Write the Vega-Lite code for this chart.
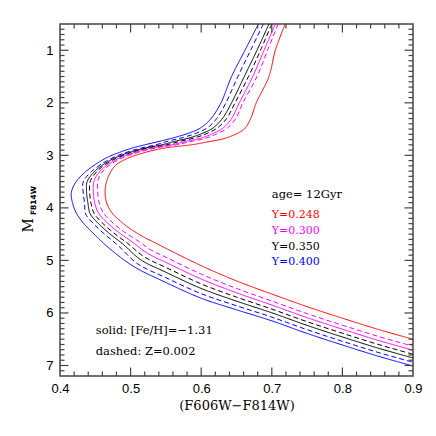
{
"$schema": "https://vega.github.io/schema/vega-lite/v6.json",
"width": 353, "height": 352,
"autosize": "none",
"padding": {"left": 60, "top": 24, "right": 23, "bottom": 60},
"background": "white",
"config": {
"view": {"stroke": "#444", "strokeWidth": 1.5},
"axis": {"ticks": false, "domain": false, "grid": false, "labelFlush": false, "labelOverlap": false, "labelFont": "Liberation Sans", "labelFontSize": 13, "labelColor": "black", "titleFont": "DejaVu Serif", "titleFontSize": 13, "titleFontWeight": "normal", "titleColor": "black", "titlePadding": 4},
"axisX": {"labelPadding": 6},
"axisY": {"labelPadding": 7}
},
"datasets": {
"curves": [
{"Y":"0.400","kind":"solid","i":1,"x":0.681,"y":0.5},{"Y":"0.400","kind":"solid","i":2,"x":0.662,"y":1.0},{"Y":"0.400","kind":"solid","i":3,"x":0.643,"y":1.5},{"Y":"0.400","kind":"solid","i":4,"x":0.628,"y":2.0},{"Y":"0.400","kind":"solid","i":5,"x":0.614,"y":2.3},{"Y":"0.400","kind":"solid","i":6,"x":0.6,"y":2.47},{"Y":"0.400","kind":"solid","i":7,"x":0.584,"y":2.57},{"Y":"0.400","kind":"solid","i":8,"x":0.565,"y":2.65},{"Y":"0.400","kind":"solid","i":9,"x":0.545,"y":2.72},{"Y":"0.400","kind":"solid","i":10,"x":0.52,"y":2.8},{"Y":"0.400","kind":"solid","i":11,"x":0.5,"y":2.87},{"Y":"0.400","kind":"solid","i":12,"x":0.485,"y":2.94},{"Y":"0.400","kind":"solid","i":13,"x":0.47,"y":3.02},{"Y":"0.400","kind":"solid","i":14,"x":0.455,"y":3.13},{"Y":"0.400","kind":"solid","i":15,"x":0.433,"y":3.35},{"Y":"0.400","kind":"solid","i":16,"x":0.421,"y":3.54},{"Y":"0.400","kind":"solid","i":17,"x":0.416,"y":3.72},{"Y":"0.400","kind":"solid","i":18,"x":0.418,"y":3.92},{"Y":"0.400","kind":"solid","i":19,"x":0.424,"y":4.12},{"Y":"0.400","kind":"solid","i":20,"x":0.435,"y":4.32},{"Y":"0.400","kind":"solid","i":21,"x":0.45,"y":4.52},{"Y":"0.400","kind":"solid","i":22,"x":0.468,"y":4.75},{"Y":"0.400","kind":"solid","i":23,"x":0.505,"y":5.12},{"Y":"0.400","kind":"solid","i":24,"x":0.55,"y":5.42},{"Y":"0.400","kind":"solid","i":25,"x":0.6,"y":5.72},{"Y":"0.400","kind":"solid","i":26,"x":0.65,"y":5.94},{"Y":"0.400","kind":"solid","i":27,"x":0.7,"y":6.15},{"Y":"0.400","kind":"solid","i":28,"x":0.75,"y":6.39},{"Y":"0.400","kind":"solid","i":29,"x":0.8,"y":6.61},{"Y":"0.400","kind":"solid","i":30,"x":0.85,"y":6.82},{"Y":"0.400","kind":"solid","i":31,"x":0.9,"y":7.01},
{"Y":"0.400","kind":"dashed","i":1,"x":0.688,"y":0.5},{"Y":"0.400","kind":"dashed","i":2,"x":0.67,"y":1.0},{"Y":"0.400","kind":"dashed","i":3,"x":0.652,"y":1.5},{"Y":"0.400","kind":"dashed","i":4,"x":0.635,"y":2.0},{"Y":"0.400","kind":"dashed","i":5,"x":0.622,"y":2.3},{"Y":"0.400","kind":"dashed","i":6,"x":0.609,"y":2.475},{"Y":"0.400","kind":"dashed","i":7,"x":0.593,"y":2.578},{"Y":"0.400","kind":"dashed","i":8,"x":0.575,"y":2.658},{"Y":"0.400","kind":"dashed","i":9,"x":0.554,"y":2.726},{"Y":"0.400","kind":"dashed","i":10,"x":0.5357,"y":2.8},{"Y":"0.400","kind":"dashed","i":11,"x":0.515,"y":2.86},{"Y":"0.400","kind":"dashed","i":12,"x":0.4988,"y":2.9225},{"Y":"0.400","kind":"dashed","i":13,"x":0.482,"y":3.0025},{"Y":"0.400","kind":"dashed","i":14,"x":0.4653,"y":3.11},{"Y":"0.400","kind":"dashed","i":15,"x":0.4443,"y":3.3125},{"Y":"0.400","kind":"dashed","i":16,"x":0.4328,"y":3.51},{"Y":"0.400","kind":"dashed","i":17,"x":0.4328,"y":3.696},{"Y":"0.400","kind":"dashed","i":18,"x":0.4348,"y":3.913},{"Y":"0.400","kind":"dashed","i":19,"x":0.4363,"y":4.115},{"Y":"0.400","kind":"dashed","i":20,"x":0.448,"y":4.31},{"Y":"0.400","kind":"dashed","i":21,"x":0.463,"y":4.498},{"Y":"0.400","kind":"dashed","i":22,"x":0.482,"y":4.713},{"Y":"0.400","kind":"dashed","i":23,"x":0.5095,"y":5.06},{"Y":"0.400","kind":"dashed","i":24,"x":0.55,"y":5.329},{"Y":"0.400","kind":"dashed","i":25,"x":0.6,"y":5.633},{"Y":"0.400","kind":"dashed","i":26,"x":0.65,"y":5.863},{"Y":"0.400","kind":"dashed","i":27,"x":0.7,"y":6.079},{"Y":"0.400","kind":"dashed","i":28,"x":0.75,"y":6.319},{"Y":"0.400","kind":"dashed","i":29,"x":0.8,"y":6.539},{"Y":"0.400","kind":"dashed","i":30,"x":0.85,"y":6.749},{"Y":"0.400","kind":"dashed","i":31,"x":0.9,"y":6.939},
{"Y":"0.350","kind":"solid","i":1,"x":0.696,"y":0.5},{"Y":"0.350","kind":"solid","i":2,"x":0.679,"y":1.0},{"Y":"0.350","kind":"solid","i":3,"x":0.661,"y":1.5},{"Y":"0.350","kind":"solid","i":4,"x":0.643,"y":2.0},{"Y":"0.350","kind":"solid","i":5,"x":0.63,"y":2.3},{"Y":"0.350","kind":"solid","i":6,"x":0.617,"y":2.477},{"Y":"0.350","kind":"solid","i":7,"x":0.602,"y":2.58},{"Y":"0.350","kind":"solid","i":8,"x":0.5845,"y":2.664},{"Y":"0.350","kind":"solid","i":9,"x":0.5636,"y":2.73},{"Y":"0.350","kind":"solid","i":10,"x":0.5443,"y":2.8},{"Y":"0.350","kind":"solid","i":11,"x":0.5225,"y":2.855},{"Y":"0.350","kind":"solid","i":12,"x":0.5056,"y":2.913},{"Y":"0.350","kind":"solid","i":13,"x":0.488,"y":2.993},{"Y":"0.350","kind":"solid","i":14,"x":0.4703,"y":3.1},{"Y":"0.350","kind":"solid","i":15,"x":0.4499,"y":3.2938},{"Y":"0.350","kind":"solid","i":16,"x":0.4386,"y":3.495},{"Y":"0.350","kind":"solid","i":17,"x":0.4376,"y":3.689},{"Y":"0.350","kind":"solid","i":18,"x":0.4396,"y":3.911},{"Y":"0.350","kind":"solid","i":19,"x":0.4428,"y":4.113},{"Y":"0.350","kind":"solid","i":20,"x":0.4549,"y":4.305},{"Y":"0.350","kind":"solid","i":21,"x":0.4699,"y":4.486},{"Y":"0.350","kind":"solid","i":22,"x":0.4895,"y":4.694},{"Y":"0.350","kind":"solid","i":23,"x":0.5146,"y":4.99},{"Y":"0.350","kind":"solid","i":24,"x":0.55,"y":5.225},{"Y":"0.350","kind":"solid","i":25,"x":0.6,"y":5.534},{"Y":"0.350","kind":"solid","i":26,"x":0.65,"y":5.775},{"Y":"0.350","kind":"solid","i":27,"x":0.7,"y":5.997},{"Y":"0.350","kind":"solid","i":28,"x":0.75,"y":6.237},{"Y":"0.350","kind":"solid","i":29,"x":0.8,"y":6.457},{"Y":"0.350","kind":"solid","i":30,"x":0.85,"y":6.667},{"Y":"0.350","kind":"solid","i":31,"x":0.9,"y":6.857},
{"Y":"0.350","kind":"dashed","i":1,"x":0.7,"y":0.5},{"Y":"0.350","kind":"dashed","i":2,"x":0.684,"y":1.0},{"Y":"0.350","kind":"dashed","i":3,"x":0.667,"y":1.5},{"Y":"0.350","kind":"dashed","i":4,"x":0.648,"y":2.0},{"Y":"0.350","kind":"dashed","i":5,"x":0.636,"y":2.3},{"Y":"0.350","kind":"dashed","i":6,"x":0.623,"y":2.478},{"Y":"0.350","kind":"dashed","i":7,"x":0.608,"y":2.584},{"Y":"0.350","kind":"dashed","i":8,"x":0.591,"y":2.668},{"Y":"0.350","kind":"dashed","i":9,"x":0.5698,"y":2.734},{"Y":"0.350","kind":"dashed","i":10,"x":0.5507,"y":2.8},{"Y":"0.350","kind":"dashed","i":11,"x":0.5282,"y":2.852},{"Y":"0.350","kind":"dashed","i":12,"x":0.5109,"y":2.908},{"Y":"0.350","kind":"dashed","i":13,"x":0.4926,"y":2.987},{"Y":"0.350","kind":"dashed","i":14,"x":0.4743,"y":3.092},{"Y":"0.350","kind":"dashed","i":15,"x":0.4542,"y":3.2795},{"Y":"0.350","kind":"dashed","i":16,"x":0.4431,"y":3.4836},{"Y":"0.350","kind":"dashed","i":17,"x":0.4419,"y":3.682},{"Y":"0.350","kind":"dashed","i":18,"x":0.4439,"y":3.909},{"Y":"0.350","kind":"dashed","i":19,"x":0.4485,"y":4.11},{"Y":"0.350","kind":"dashed","i":20,"x":0.461,"y":4.3},{"Y":"0.350","kind":"dashed","i":21,"x":0.476,"y":4.476},{"Y":"0.350","kind":"dashed","i":22,"x":0.4959,"y":4.677},{"Y":"0.350","kind":"dashed","i":23,"x":0.5191,"y":4.93},{"Y":"0.350","kind":"dashed","i":24,"x":0.55,"y":5.134},{"Y":"0.350","kind":"dashed","i":25,"x":0.6,"y":5.447},{"Y":"0.350","kind":"dashed","i":26,"x":0.65,"y":5.698},{"Y":"0.350","kind":"dashed","i":27,"x":0.7,"y":5.926},{"Y":"0.350","kind":"dashed","i":28,"x":0.75,"y":6.166},{"Y":"0.350","kind":"dashed","i":29,"x":0.8,"y":6.386},{"Y":"0.350","kind":"dashed","i":30,"x":0.85,"y":6.596},{"Y":"0.350","kind":"dashed","i":31,"x":0.9,"y":6.786},
{"Y":"0.300","kind":"solid","i":1,"x":0.705,"y":0.5},{"Y":"0.300","kind":"solid","i":2,"x":0.689,"y":1.0},{"Y":"0.300","kind":"solid","i":3,"x":0.673,"y":1.5},{"Y":"0.300","kind":"solid","i":4,"x":0.654,"y":2.0},{"Y":"0.300","kind":"solid","i":5,"x":0.643,"y":2.3},{"Y":"0.300","kind":"solid","i":6,"x":0.631,"y":2.48},{"Y":"0.300","kind":"solid","i":7,"x":0.616,"y":2.589},{"Y":"0.300","kind":"solid","i":8,"x":0.5995,"y":2.673},{"Y":"0.300","kind":"solid","i":9,"x":0.5779,"y":2.737},{"Y":"0.300","kind":"solid","i":10,"x":0.5578,"y":2.8},{"Y":"0.300","kind":"solid","i":11,"x":0.5354,"y":2.848},{"Y":"0.300","kind":"solid","i":12,"x":0.5175,"y":2.902},{"Y":"0.300","kind":"solid","i":13,"x":0.4983,"y":2.98},{"Y":"0.300","kind":"solid","i":14,"x":0.4792,"y":3.084},{"Y":"0.300","kind":"solid","i":15,"x":0.4596,"y":3.2615},{"Y":"0.300","kind":"solid","i":16,"x":0.4487,"y":3.4692},{"Y":"0.300","kind":"solid","i":17,"x":0.4472,"y":3.675},{"Y":"0.300","kind":"solid","i":18,"x":0.4492,"y":3.907},{"Y":"0.300","kind":"solid","i":19,"x":0.455,"y":4.108},{"Y":"0.300","kind":"solid","i":20,"x":0.4679,"y":4.295},{"Y":"0.300","kind":"solid","i":21,"x":0.4829,"y":4.464},{"Y":"0.300","kind":"solid","i":22,"x":0.5032,"y":4.657},{"Y":"0.300","kind":"solid","i":23,"x":0.5239,"y":4.865},{"Y":"0.300","kind":"solid","i":24,"x":0.55,"y":5.0365},{"Y":"0.300","kind":"solid","i":25,"x":0.6,"y":5.354},{"Y":"0.300","kind":"solid","i":26,"x":0.65,"y":5.616},{"Y":"0.300","kind":"solid","i":27,"x":0.7,"y":5.849},{"Y":"0.300","kind":"solid","i":28,"x":0.75,"y":6.089},{"Y":"0.300","kind":"solid","i":29,"x":0.8,"y":6.309},{"Y":"0.300","kind":"solid","i":30,"x":0.85,"y":6.519},{"Y":"0.300","kind":"solid","i":31,"x":0.9,"y":6.709},
{"Y":"0.300","kind":"dashed","i":1,"x":0.709,"y":0.5},{"Y":"0.300","kind":"dashed","i":2,"x":0.694,"y":1.0},{"Y":"0.300","kind":"dashed","i":3,"x":0.679,"y":1.5},{"Y":"0.300","kind":"dashed","i":4,"x":0.659,"y":2.0},{"Y":"0.300","kind":"dashed","i":5,"x":0.649,"y":2.3},{"Y":"0.300","kind":"dashed","i":6,"x":0.637,"y":2.482},{"Y":"0.300","kind":"dashed","i":7,"x":0.622,"y":2.592},{"Y":"0.300","kind":"dashed","i":8,"x":0.606,"y":2.677},{"Y":"0.300","kind":"dashed","i":9,"x":0.584,"y":2.74},{"Y":"0.300","kind":"dashed","i":10,"x":0.5651,"y":2.8},{"Y":"0.300","kind":"dashed","i":11,"x":0.5423,"y":2.845},{"Y":"0.300","kind":"dashed","i":12,"x":0.5238,"y":2.896},{"Y":"0.300","kind":"dashed","i":13,"x":0.5038,"y":2.973},{"Y":"0.300","kind":"dashed","i":14,"x":0.4839,"y":3.076},{"Y":"0.300","kind":"dashed","i":15,"x":0.4647,"y":3.2443},{"Y":"0.300","kind":"dashed","i":16,"x":0.4541,"y":3.4554},{"Y":"0.300","kind":"dashed","i":17,"x":0.4534,"y":3.665},{"Y":"0.300","kind":"dashed","i":18,"x":0.4554,"y":3.904},{"Y":"0.300","kind":"dashed","i":19,"x":0.462,"y":4.105},{"Y":"0.300","kind":"dashed","i":20,"x":0.4753,"y":4.29},{"Y":"0.300","kind":"dashed","i":21,"x":0.4903,"y":4.452},{"Y":"0.300","kind":"dashed","i":22,"x":0.5113,"y":4.636},{"Y":"0.300","kind":"dashed","i":23,"x":0.5287,"y":4.8},{"Y":"0.300","kind":"dashed","i":24,"x":0.55,"y":4.939},{"Y":"0.300","kind":"dashed","i":25,"x":0.6,"y":5.261},{"Y":"0.300","kind":"dashed","i":26,"x":0.65,"y":5.533},{"Y":"0.300","kind":"dashed","i":27,"x":0.7,"y":5.773},{"Y":"0.300","kind":"dashed","i":28,"x":0.75,"y":6.013},{"Y":"0.300","kind":"dashed","i":29,"x":0.8,"y":6.233},{"Y":"0.300","kind":"dashed","i":30,"x":0.85,"y":6.443},{"Y":"0.300","kind":"dashed","i":31,"x":0.9,"y":6.633},
{"Y":"0.248","kind":"solid","i":1,"x":0.719,"y":0.5},{"Y":"0.248","kind":"solid","i":2,"x":0.705,"y":1.0},{"Y":"0.248","kind":"solid","i":3,"x":0.696,"y":1.5},{"Y":"0.248","kind":"solid","i":4,"x":0.678,"y":2.0},{"Y":"0.248","kind":"solid","i":5,"x":0.67,"y":2.3},{"Y":"0.248","kind":"solid","i":6,"x":0.661,"y":2.5},{"Y":"0.248","kind":"solid","i":7,"x":0.645,"y":2.62},{"Y":"0.248","kind":"solid","i":8,"x":0.63,"y":2.69},{"Y":"0.248","kind":"solid","i":9,"x":0.607,"y":2.75},{"Y":"0.248","kind":"solid","i":10,"x":0.586,"y":2.8},{"Y":"0.248","kind":"solid","i":11,"x":0.56,"y":2.84},{"Y":"0.248","kind":"solid","i":12,"x":0.54,"y":2.88},{"Y":"0.248","kind":"solid","i":13,"x":0.518,"y":2.955},{"Y":"0.248","kind":"solid","i":14,"x":0.496,"y":3.055},{"Y":"0.248","kind":"solid","i":15,"x":0.478,"y":3.2},{"Y":"0.248","kind":"solid","i":16,"x":0.468,"y":3.42},{"Y":"0.248","kind":"solid","i":17,"x":0.464,"y":3.65},{"Y":"0.248","kind":"solid","i":18,"x":0.466,"y":3.9},{"Y":"0.248","kind":"solid","i":19,"x":0.474,"y":4.1},{"Y":"0.248","kind":"solid","i":20,"x":0.488,"y":4.28},{"Y":"0.248","kind":"solid","i":21,"x":0.503,"y":4.43},{"Y":"0.248","kind":"solid","i":22,"x":0.522,"y":4.58},{"Y":"0.248","kind":"solid","i":23,"x":0.537,"y":4.68},{"Y":"0.248","kind":"solid","i":24,"x":0.55,"y":4.77},{"Y":"0.248","kind":"solid","i":25,"x":0.6,"y":5.1},{"Y":"0.248","kind":"solid","i":26,"x":0.65,"y":5.39},{"Y":"0.248","kind":"solid","i":27,"x":0.7,"y":5.64},{"Y":"0.248","kind":"solid","i":28,"x":0.75,"y":5.88},{"Y":"0.248","kind":"solid","i":29,"x":0.8,"y":6.1},{"Y":"0.248","kind":"solid","i":30,"x":0.85,"y":6.31},{"Y":"0.248","kind":"solid","i":31,"x":0.9,"y":6.5}
],
"xticks": [
{"v":0.5,"k":"major"},{"v":0.6,"k":"major"},{"v":0.7,"k":"major"},{"v":0.8,"k":"major"},
{"v":0.42,"k":"minor"},{"v":0.44,"k":"minor"},{"v":0.46,"k":"minor"},{"v":0.48,"k":"minor"},{"v":0.52,"k":"minor"},{"v":0.54,"k":"minor"},{"v":0.56,"k":"minor"},{"v":0.58,"k":"minor"},{"v":0.62,"k":"minor"},{"v":0.64,"k":"minor"},{"v":0.66,"k":"minor"},{"v":0.68,"k":"minor"},{"v":0.72,"k":"minor"},{"v":0.74,"k":"minor"},{"v":0.76,"k":"minor"},{"v":0.78,"k":"minor"},{"v":0.82,"k":"minor"},{"v":0.84,"k":"minor"},{"v":0.86,"k":"minor"},{"v":0.88,"k":"minor"}
],
"yticks": [
{"v":1,"k":"major"},{"v":2,"k":"major"},{"v":3,"k":"major"},{"v":4,"k":"major"},{"v":5,"k":"major"},{"v":6,"k":"major"},{"v":7,"k":"major"},
{"v":0.6,"k":"minor"},{"v":0.7,"k":"minor"},{"v":0.8,"k":"minor"},{"v":0.9,"k":"minor"},{"v":1.1,"k":"minor"},{"v":1.2,"k":"minor"},{"v":1.3,"k":"minor"},{"v":1.4,"k":"minor"},{"v":1.5,"k":"minor"},{"v":1.6,"k":"minor"},{"v":1.7,"k":"minor"},{"v":1.8,"k":"minor"},{"v":1.9,"k":"minor"},{"v":2.1,"k":"minor"},{"v":2.2,"k":"minor"},{"v":2.3,"k":"minor"},{"v":2.4,"k":"minor"},{"v":2.5,"k":"minor"},{"v":2.6,"k":"minor"},{"v":2.7,"k":"minor"},{"v":2.8,"k":"minor"},{"v":2.9,"k":"minor"},{"v":3.1,"k":"minor"},{"v":3.2,"k":"minor"},{"v":3.3,"k":"minor"},{"v":3.4,"k":"minor"},{"v":3.5,"k":"minor"},{"v":3.6,"k":"minor"},{"v":3.7,"k":"minor"},{"v":3.8,"k":"minor"},{"v":3.9,"k":"minor"},{"v":4.1,"k":"minor"},{"v":4.2,"k":"minor"},{"v":4.3,"k":"minor"},{"v":4.4,"k":"minor"},{"v":4.5,"k":"minor"},{"v":4.6,"k":"minor"},{"v":4.7,"k":"minor"},{"v":4.8,"k":"minor"},{"v":4.9,"k":"minor"},{"v":5.1,"k":"minor"},{"v":5.2,"k":"minor"},{"v":5.3,"k":"minor"},{"v":5.4,"k":"minor"},{"v":5.5,"k":"minor"},{"v":5.6,"k":"minor"},{"v":5.7,"k":"minor"},{"v":5.8,"k":"minor"},{"v":5.9,"k":"minor"},{"v":6.1,"k":"minor"},{"v":6.2,"k":"minor"},{"v":6.3,"k":"minor"},{"v":6.4,"k":"minor"},{"v":6.5,"k":"minor"},{"v":6.6,"k":"minor"},{"v":6.7,"k":"minor"},{"v":6.8,"k":"minor"},{"v":6.9,"k":"minor"},{"v":7.1,"k":"minor"}
],
"ylabels": [
{"label":"Y=0.248","Y":"0.248","x":0.7,"y":4.14},
{"label":"Y=0.300","Y":"0.300","x":0.7,"y":4.44},
{"label":"Y=0.350","Y":"0.350","x":0.7,"y":4.74},
{"label":"Y=0.400","Y":"0.400","x":0.7,"y":5.03}
],
"notes": [
{"label":"age= 12Gyr","x":0.7,"y":3.76},
{"label":"solid: [Fe/H]=−1.31","x":0.4506,"y":6.34},
{"label":"dashed: Z=0.002","x":0.4506,"y":6.74}
]
},
"layer": [
{
"data": {"name": "curves"},
"mark": {"type": "line", "strokeWidth": 1, "clip": true, "interpolate": "catmull-rom"},
"encoding": {
"x": {"field": "x", "type": "quantitative", "scale": {"domain": [0.4, 0.9], "nice": false, "zero": false}, "axis": {"values": [0.4,0.5,0.6,0.7,0.8,0.9], "format": ".1f", "title": "(F606W−F814W)"}},
"y": {"field": "y", "type": "quantitative", "scale": {"domain": [0.5, 7.2], "reverse": true, "nice": false, "zero": false}, "axis": {"values": [1,2,3,4,5,6,7], "format": "d", "title": null}},
"color": {"field": "Y", "type": "nominal", "scale": {"domain": ["0.248","0.300","0.350","0.400"], "range": ["#ff0000","#ff00ff","#000000","#0000ff"]}, "legend": null},
"strokeDash": {"field": "kind", "type": "nominal", "scale": {"domain": ["solid","dashed"], "range": [[1,0],[5,3]]}, "legend": null},
"order": {"field": "i", "type": "quantitative"}
}
},
{
"data": {"name": "xticks"},
"mark": {"type": "tick", "orient": "vertical", "thickness": 1.2, "color": "#444", "opacity": 1, "clip": true},
"encoding": {
"x": {"field": "v", "type": "quantitative", "axis": {"values": [0.4,0.5,0.6,0.7,0.8,0.9], "format": ".1f", "title": "(F606W−F814W)"}},
"y": {"datum": 7.2, "type": "quantitative", "axis": {"values": [1,2,3,4,5,6,7], "format": "d", "title": null}},
"size": {"field": "k", "type": "nominal", "scale": {"domain": ["major","minor"], "range": [17, 9]}, "legend": null}
}
},
{
"data": {"name": "xticks"},
"mark": {"type": "tick", "orient": "vertical", "thickness": 1.2, "color": "#444", "opacity": 1, "clip": true},
"encoding": {
"x": {"field": "v", "type": "quantitative", "axis": {"values": [0.4,0.5,0.6,0.7,0.8,0.9], "format": ".1f", "title": "(F606W−F814W)"}},
"y": {"datum": 0.5, "type": "quantitative", "axis": {"values": [1,2,3,4,5,6,7], "format": "d", "title": null}},
"size": {"field": "k", "type": "nominal", "legend": null}
}
},
{
"data": {"name": "yticks"},
"mark": {"type": "tick", "orient": "horizontal", "thickness": 1.2, "color": "#444", "opacity": 1, "clip": true},
"encoding": {
"y": {"field": "v", "type": "quantitative", "axis": {"values": [1,2,3,4,5,6,7], "format": "d", "title": null}},
"x": {"datum": 0.4, "type": "quantitative", "axis": {"values": [0.4,0.5,0.6,0.7,0.8,0.9], "format": ".1f", "title": "(F606W−F814W)"}},
"size": {"field": "k", "type": "nominal", "legend": null}
}
},
{
"data": {"name": "yticks"},
"mark": {"type": "tick", "orient": "horizontal", "thickness": 1.2, "color": "#444", "opacity": 1, "clip": true},
"encoding": {
"y": {"field": "v", "type": "quantitative", "axis": {"values": [1,2,3,4,5,6,7], "format": "d", "title": null}},
"x": {"datum": 0.9, "type": "quantitative", "axis": {"values": [0.4,0.5,0.6,0.7,0.8,0.9], "format": ".1f", "title": "(F606W−F814W)"}},
"size": {"field": "k", "type": "nominal", "legend": null}
}
},
{
"data": {"name": "ylabels"},
"mark": {"type": "text", "align": "left", "baseline": "middle", "font": "DejaVu Serif", "fontSize": 11},
"encoding": {
"x": {"field": "x", "type": "quantitative", "axis": {"values": [0.4,0.5,0.6,0.7,0.8,0.9], "format": ".1f", "title": "(F606W−F814W)"}},
"y": {"field": "y", "type": "quantitative", "axis": {"values": [1,2,3,4,5,6,7], "format": "d", "title": null}},
"text": {"field": "label"},
"color": {"field": "Y", "type": "nominal", "legend": null}
}
},
{
"data": {"name": "notes"},
"mark": {"type": "text", "align": "left", "baseline": "middle", "font": "DejaVu Serif", "fontSize": 11.5, "color": "black"},
"encoding": {
"x": {"field": "x", "type": "quantitative", "axis": {"values": [0.4,0.5,0.6,0.7,0.8,0.9], "format": ".1f", "title": "(F606W−F814W)"}},
"y": {"field": "y", "type": "quantitative", "axis": {"values": [1,2,3,4,5,6,7], "format": "d", "title": null}},
"text": {"field": "label"}
}
},
{
"data": {"values": [{"label": "M", "x": 0.356, "y": 4.33}]},
"mark": {"type": "text", "align": "center", "baseline": "middle", "angle": 270, "font": "DejaVu Serif", "fontSize": 14, "color": "black"},
"encoding": {
"x": {"field": "x", "type": "quantitative", "axis": {"values": [0.4,0.5,0.6,0.7,0.8,0.9], "format": ".1f", "title": "(F606W−F814W)"}},
"y": {"field": "y", "type": "quantitative", "axis": {"values": [1,2,3,4,5,6,7], "format": "d", "title": null}},
"text": {"field": "label"}
}
},
{
"data": {"values": [{"label": "F814W", "x": 0.3625, "y": 3.86}]},
"mark": {"type": "text", "align": "center", "baseline": "middle", "angle": 270, "font": "DejaVu Sans", "fontSize": 7.5, "fontWeight": "bold", "color": "black"},
"encoding": {
"x": {"field": "x", "type": "quantitative", "axis": {"values": [0.4,0.5,0.6,0.7,0.8,0.9], "format": ".1f", "title": "(F606W−F814W)"}},
"y": {"field": "y", "type": "quantitative", "axis": {"values": [1,2,3,4,5,6,7], "format": "d", "title": null}},
"text": {"field": "label"}
}
}
]
}
